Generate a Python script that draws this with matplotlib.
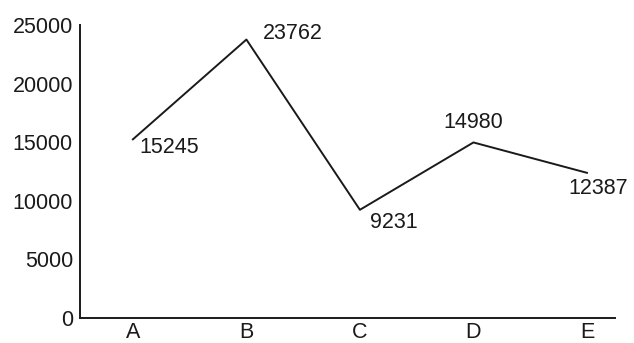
import matplotlib
matplotlib.use("Agg")
import matplotlib.pyplot as plt

categories = ["A", "B", "C", "D", "E"]
values = [15245, 23762, 9231, 14980, 12387]
yticks = [0, 5000, 10000, 15000, 20000, 25000]

plt.rcParams['font.family'] = ['Liberation Sans', 'DejaVu Sans']

fig = plt.figure(figsize=(6.34, 3.43), dpi=100)
ax = fig.add_axes([0.126, 0.073, 0.844, 0.854])

x = list(range(len(categories)))
ax.plot(x, values, color='#1a1a1a', lw=1.4)

# value labels, placed around each point
offsets = [(5, -6, 'left', 'center'),
           (12, 4, 'left', 'center'),
           (7, -9, 'left', 'center'),
           (0, 7, 'center', 'bottom'),
           (8, -4, 'center', 'top')]
for xi, v, (dx, dy, ha, va) in zip(x, values, offsets):
    ax.annotate(str(v), (xi, v), xytext=(dx, dy), textcoords='offset points',
                ha=ha, va=va, fontsize=15.5, color='#1a1a1a')

ax.set_xlim(-0.467, 4.247)
ax.set_ylim(0, 25000)
ax.set_xticks(x)
ax.set_xticklabels(categories)
ax.set_yticks(yticks)
ax.set_yticklabels([str(t) for t in yticks])
ax.tick_params(length=0, labelsize=15.5, colors='#1a1a1a')
ax.tick_params(axis='y', pad=5)
ax.tick_params(axis='x', pad=3)

for s in ['top', 'right']:
    ax.spines[s].set_visible(False)
for s in ['left', 'bottom']:
    ax.spines[s].set_linewidth(1.4)
    ax.spines[s].set_color('#1a1a1a')

fig.savefig('out.png', dpi=100)
